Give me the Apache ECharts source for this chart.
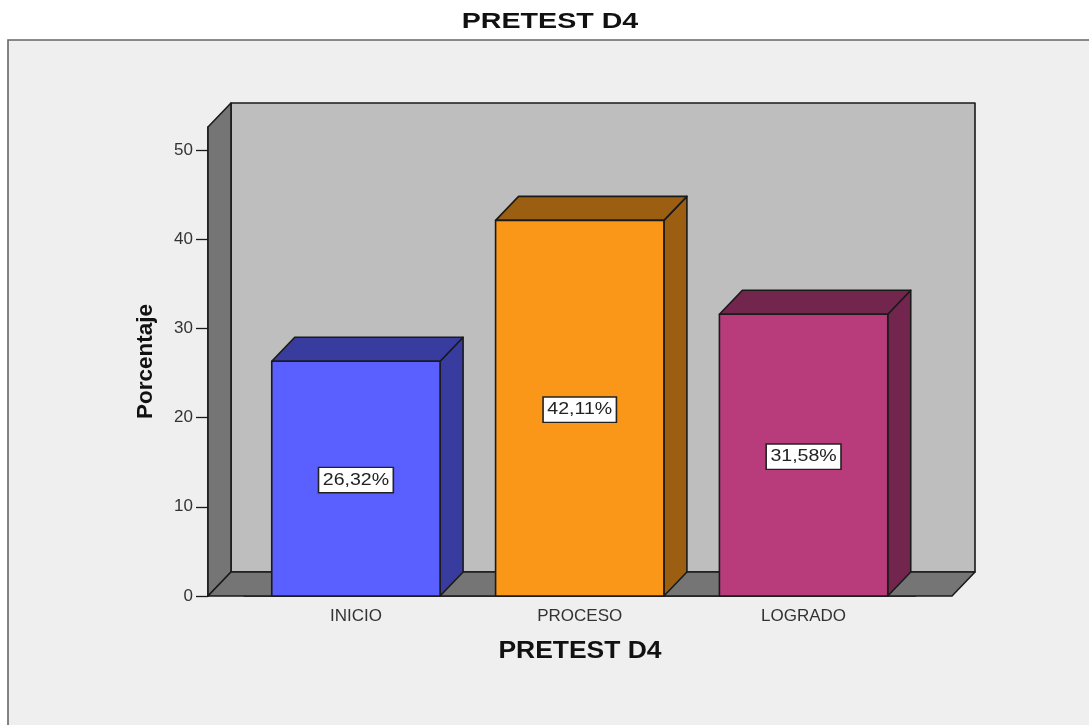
<!DOCTYPE html>
<html>
<head>
<meta charset="utf-8">
<style>html,body{margin:0;padding:0;background:#fff}#c{width:1089px;height:725px}</style>
<script src="https://cdn.jsdelivr.net/npm/echarts@6/dist/echarts.min.js"></script>
</head>
<body>
<div id="c"></div>
<script>
const categories = ['INICIO', 'PROCESO', 'LOGRADO'];
const percentages = [26.32, 42.11, 31.58];
const faceColors = ['#5A60FF', '#FA9719', '#B83C7B'];
const topColors = ['#383C9F', '#9C5E10', '#73264D'];
const yTicks = [0, 10, 20, 30, 40, 50];
const yMax = 52.58;
const chartTitle = 'PRETEST D4';
const xTitle = 'PRETEST D4';
const yTitle = 'Porcentaje';

const FONT = '"Liberation Sans", Arial, sans-serif';
const DX = 23, DY = -24, EDGE = '#1a1a1a';
const chart = echarts.init(document.getElementById('c'), null, {renderer: 'canvas'});

function poly(points, fill) {
  return {type: 'polygon', shape: {points}, style: {fill, stroke: EDGE, lineWidth: 1.6, lineJoin: 'round'}};
}

function renderRoom(params, api) {
  const s = params.coordSys;
  const left = s.x - 36, right = s.x + s.width + 36.5;
  const top = s.y, bottom = s.y + s.height;
  return {type: 'group', children: [
    poly([[left + DX, top + DY], [right + DX, top + DY], [right + DX, bottom + DY], [left + DX, bottom + DY]], '#BEBEBE'),
    poly([[left, top], [left + DX, top + DY], [left + DX, bottom + DY], [left, bottom]], '#757575'),
    poly([[left, bottom], [right, bottom], [right + DX, bottom + DY], [left + DX, bottom + DY]], '#757575')
  ]};
}

function renderBar(params, api) {
  const i = api.value(0), v = api.value(1);
  const p = api.coord([i, v]), base = api.coord([i, 0]);
  const w = api.size([1, 0])[0] * 0.752;
  const x0 = p[0] - w / 2, x1 = p[0] + w / 2, yT = p[1], yB = base[1];
  const labelText = v.toFixed(2).replace('.', ',') + '%';
  return {type: 'group', children: [
    poly([[x1, yB], [x1 + DX, yB + DY], [x1 + DX, yT + DY], [x1, yT]], topColors[i]),
    poly([[x0, yT], [x0 + DX, yT + DY], [x1 + DX, yT + DY], [x1, yT]], topColors[i]),
    poly([[x0, yT], [x1, yT], [x1, yB], [x0, yB]], faceColors[i]),
    {type: 'text', x: p[0], y: (yT + yB) / 2 + 1.5, scaleX: 1.15, style: {
      text: labelText, align: 'center', verticalAlign: 'middle',
      font: '17px ' + FONT, fill: '#222',
      backgroundColor: '#fff', borderColor: '#222', borderWidth: 1.4,
      padding: [4, 3, 3, 3]
    }}
  ]};
}

function stretchedTitle(text, x, y, size, scaleX) {
  return {
    type: 'text', x, y, scaleX, silent: true, z: 10,
    style: {text, align: 'center', verticalAlign: 'middle', font: 'bold ' + size + 'px ' + FONT, fill: '#111'}
  };
}

chart.setOption({
  animation: false,
  backgroundColor: '#fff',
  graphic: [
    {
      type: 'rect', z: -10, silent: true,
      shape: {x: 8, y: 40, width: 1090, height: 700},
      style: {fill: '#EFEFEF', stroke: '#666', lineWidth: 1.6}
    },
    stretchedTitle(chartTitle, 550, 22, 22, 1.3),
    stretchedTitle(xTitle, 580, 652, 23, 1.15)
  ],
  grid: {left: 244, right: 173.5, top: 127, bottom: 129},
  xAxis: {
    type: 'category', data: categories,
    axisLine: {lineStyle: {color: EDGE, width: 1.6}},
    axisTick: {alignWithLabel: true, length: 6, lineStyle: {color: EDGE, width: 1.3}},
    axisLabel: {fontFamily: FONT, fontSize: 17, color: '#333', margin: 12}
  },
  yAxis: {
    type: 'value', min: 0, max: yMax, offset: 36,
    name: yTitle, nameLocation: 'middle', nameGap: 51, nameRotate: 90,
    nameTextStyle: {fontFamily: FONT, fontWeight: 'bold', fontSize: 22.5, color: '#111'},
    splitLine: {show: false},
    axisLine: {show: true, lineStyle: {color: EDGE, width: 1.6}},
    axisTick: {show: true, length: 12, customValues: yTicks, lineStyle: {color: EDGE, width: 1.3}},
    axisLabel: {fontFamily: FONT, fontSize: 17, color: '#333', margin: 15, padding: [3, 0, 0, 0], customValues: yTicks}
  },
  series: [
    {type: 'custom', silent: true, z: 1, renderItem: renderRoom, data: [[0, 0]], clip: false},
    {type: 'custom', silent: true, z: 2, renderItem: renderBar, clip: false,
     encode: {x: 0, y: 1},
     data: percentages.map((v, i) => [i, v])}
  ]
});
</script>
</body>
</html>
